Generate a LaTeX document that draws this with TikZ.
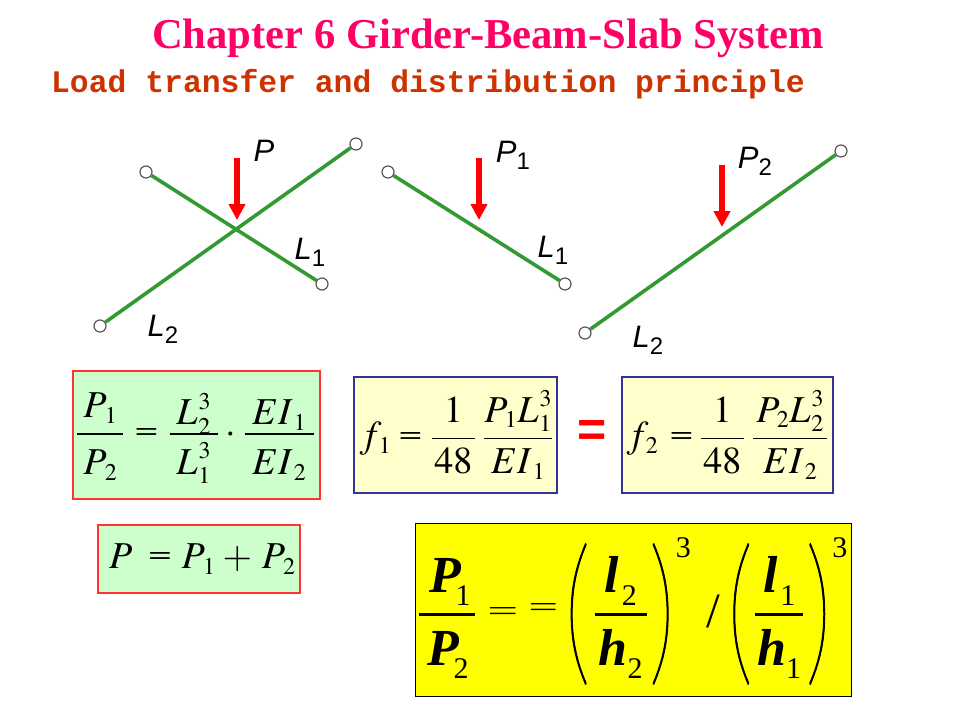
\documentclass[tikz,border=0pt]{standalone}
\usepackage{amsmath}
\usepackage{mathptmx}
\usepackage[no-math]{fontspec}
\setmainfont{Liberation Serif}
\setsansfont{Liberation Sans}
\setmonofont{Liberation Mono}
\newfontfamily\parenface[FakeBold=0.8]{Lato Thin}
\usetikzlibrary{arrows.meta}
\DeclareMathSizes{38}{38}{24}{18}
\DeclareMathSizes{52}{52}{28}{20}
\definecolor{titlepink}{HTML}{FF0066}
\definecolor{subrust}{HTML}{CC3300}
\definecolor{beamgreen}{HTML}{339933}
\definecolor{paleblue}{HTML}{333399}
\definecolor{palegreen}{HTML}{CCFFCC}
\definecolor{palecream}{HTML}{FFFFCC}
\definecolor{softred}{HTML}{FF3333}
\definecolor{fullyellow}{HTML}{FFFF00}
\definecolor{fullred}{HTML}{FF0000}
\newcommand{\gap}[1]{\hspace{#1pt}}
\newcommand{\lab}[2]{\textit{#1}{\fontsize{24}{28}\selectfont\raisebox{-7pt}{#2}}}
% fractions of a set width
\newcommand{\sizedfrac}[3]{{\makebox[#1pt]{$\displaystyle #2$} \above 1.4pt \makebox[#1pt]{$\displaystyle #3$}}}
\newcommand{\lowfrac}[4]{{\smash{\raisebox{-#2pt}{\makebox[#1pt]{$\displaystyle #3$}}} \above 1.4pt \smash{\raisebox{-5pt}{\makebox[#1pt]{$\displaystyle #4$}}}}}
\newcommand{\boldfrac}[3]{{\smash{\raisebox{-1pt}{\makebox[#1pt]{#2}}} \above 3pt \smash{\raisebox{-3pt}{\makebox[#1pt]{#3}}}}}
\newcommand{\bs}[3]{\mbox{\bfseries\itshape #1}\kern#2pt\raisebox{-13pt}{\fontsize{30}{32}\selectfont #3}}
\newcommand{\eqsmall}{\vcenter{\hbox{\resizebox{24pt}{12pt}{\bfseries =}}}}
\newcommand{\eqbig}[1]{\vcenter{\hbox{\resizebox{#1pt}{13pt}{=}}}}
\newcommand{\tallparen}[1]{\vcenter{\hbox{\makebox[20pt]{\scalebox{2.0}[3.1]{\parenface #1}}}}}
\newcommand{\bigcube}{^{\kern4pt\raisebox{-3pt}{\fontsize{30}{32}\selectfont 3}}}
\tikzset{
  pin/.style={circle, draw=black!65, fill=white, line width=1.2pt, inner sep=0pt, minimum size=12pt},
  beam/.style={draw=beamgreen, line width=3.6pt},
  load/.style={draw=fullred, line width=5.5pt, -{Triangle[length=16pt, width=16pt]}},
  tag/.style={font=\sffamily\fontsize{31}{36}\selectfont, inner sep=0pt},
  greenbox/.style={draw=softred, fill=palegreen, line width=1.1pt, inner sep=0pt, font=\fontsize{38}{44}\selectfont},
  creambox/.style={draw=paleblue, fill=palecream, line width=1.1pt, inner sep=0pt, font=\fontsize{38}{44}\selectfont},
}
\begin{document}
\begin{tikzpicture}[x=1pt, y=-1pt]
  \useasboundingbox (0, 0) rectangle (960, 720);
  \node[text=titlepink, font=\bfseries\fontsize{42.6}{46}\selectfont, inner sep=0pt] (title) at (488, 38) {Chapter 6 Girder-Beam-Slab System};
  \node[text=subrust, font=\ttfamily\bfseries\fontsize{31.4}{36}\selectfont, inner sep=0pt] (subtitle) at (428, 84.5) {Load transfer and distribution principle};
  % both beams together
  \node[pin] (a1) at (146, 172) {};
  \node[pin] (a2) at (322, 284) {};
  \node[pin] (b1) at (100, 326) {};
  \node[pin] (b2) at (356, 144) {};
  \coordinate (p0top) at (237, 158);
  \coordinate (p0tip) at (237, 220);
  \draw[beam] (a1) -- (a2);
  \draw[beam] (b1) -- (b2);
  \draw[load] (p0top) -- (p0tip);
  \node[tag] (p0) at (264, 151) {\textit{P}};
  \node[tag] (l1a) at (310, 252) {\lab{L}{1}};
  \node[tag] (l2a) at (163, 329) {\lab{L}{2}};
  % beam one
  \node[pin] (c1) at (388, 172) {};
  \node[pin] (c2) at (565, 284) {};
  \coordinate (p1top) at (479, 158);
  \coordinate (p1tip) at (479, 220);
  \draw[beam] (c1) -- (c2);
  \draw[load] (p1top) -- (p1tip);
  \node[tag] (p1) at (513, 155) {\lab{P}{1}};
  \node[tag] (l1b) at (553, 250) {\lab{L}{1}};
  % beam two
  \node[pin] (d1) at (585, 333) {};
  \node[pin] (d2) at (841, 151) {};
  \coordinate (p2top) at (722, 165);
  \coordinate (p2tip) at (722, 227);
  \draw[beam] (d1) -- (d2);
  \draw[load] (p2top) -- (p2tip);
  \node[tag] (p2) at (755, 161) {\lab{P}{2}};
  \node[tag] (l2b) at (648, 340) {\lab{L}{2}};
  % formulas
  \node[greenbox, minimum width=247pt, minimum height=128pt] (ratio) at (196.5, 435) {\smash{\raisebox{-8.5pt}{$\displaystyle \lowfrac{46}{0}{P_{\kern3pt1}}{P_{\kern3pt2}}\gap{10}\eqsmall\gap{10}\lowfrac{48}{7}{L_{\kern1pt2}^{\kern1pt3}}{L_{\kern1pt1}^{\kern1pt3}}\gap{7}{\cdot}\gap{7}\lowfrac{69}{7}{EI_{\kern4pt1}}{EI_{\kern4pt2}}\gap{2}$}}};
  \node[greenbox, minimum width=202pt, minimum height=68pt] (sum) at (199, 559) {$\displaystyle \gap{5}\makebox[39pt][l]{$P$}\eqsmall\gap{9.5}\makebox[35pt][l]{$P_{\kern3pt1}$}\gap{6}{+}\gap{9.5}\makebox[32pt][l]{$P_{\kern3pt2}$}$};
  \node[creambox, minimum width=203pt, minimum height=116pt] (f1) at (455.5, 435) {$\displaystyle \gap{2}\makebox[39pt][l]{$f_{\kern2pt1}$}\eqsmall\gap{8}\sizedfrac{43}{1}{48}\gap{7}\sizedfrac{68}{P_{\kern2pt1}L_{\kern1pt1}^{\kern1pt3}}{EI_{\kern4pt1}}$};
  \node[creambox, minimum width=211pt, minimum height=116pt] (f2) at (727.5, 435) {$\displaystyle \makebox[43pt][l]{$f_{\kern2pt2}$}\eqsmall\gap{6}\sizedfrac{43}{1}{48}\gap{7}\sizedfrac{74}{P_{\kern2pt2}L_{\kern1pt2}^{\kern1pt3}}{EI_{\kern4pt2}}$};
  \node[text=fullred, font=\sffamily\bfseries\fontsize{50}{54}\selectfont, inner sep=0pt] (equal) at (592, 433) {=};
  \node[draw=black, fill=fullyellow, line width=1pt, inner sep=0pt, font=\fontsize{52}{60}\selectfont, minimum width=436pt, minimum height=173pt] (result) at (633, 609.5) {\smash{\raisebox{-17.5pt}{$\displaystyle \boldfrac{56}{\kern6pt\bs{P}{-6}{1}}{\kern2pt\bs{P}{-6}{2}}\gap{11}\eqbig{31}\gap{10}\raisebox{4pt}{$\eqbig{30}$}\gap{9}\tallparen{(}\gap{6}\boldfrac{52}{\bs{l}{3}{2}}{\bs{h}{0}{2}}\gap{4}\tallparen{)}\bigcube\gap{15}\scalebox{.95}{/}\gap{10}\tallparen{(}\gap{4}\boldfrac{48}{\bs{l}{3}{1}}{\bs{h}{0}{1}}\gap{4}\tallparen{)}\bigcube$}}};
\end{tikzpicture}
\end{document}
